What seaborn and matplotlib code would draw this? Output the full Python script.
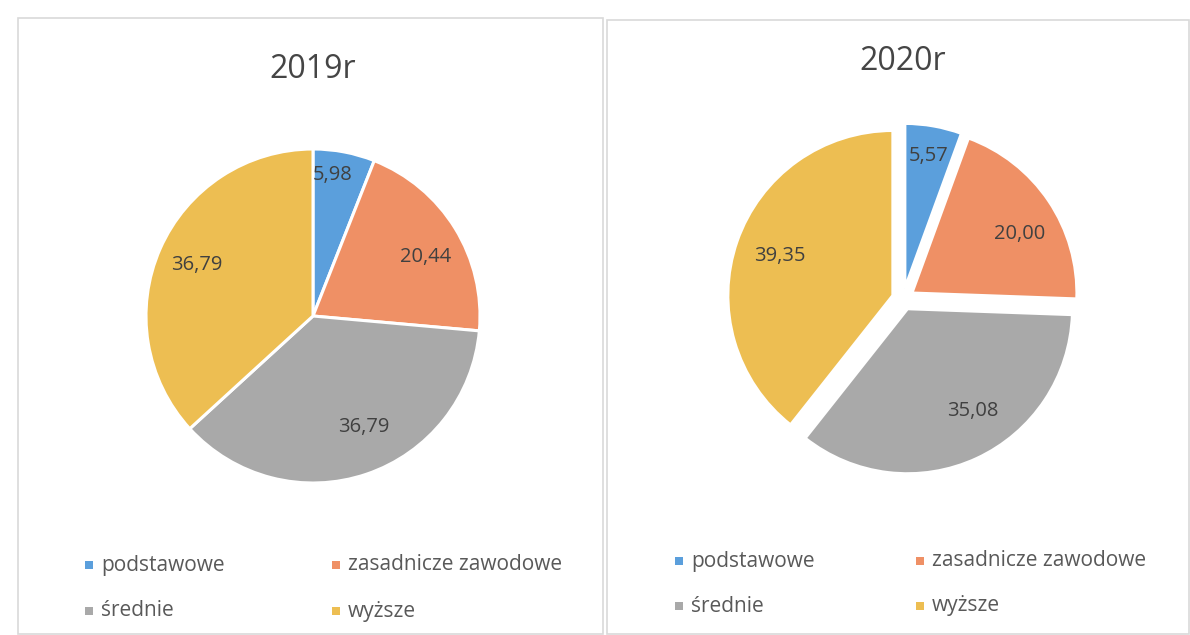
import matplotlib
matplotlib.use("Agg")
import matplotlib.pyplot as plt
from matplotlib.patches import Rectangle
import numpy as np
import seaborn as sns

categories = ["podstawowe", "zasadnicze zawodowe", "średnie", "wyższe"]
values_2019 = [5.98, 20.44, 36.79, 36.79]
values_2020 = [5.57, 20.00, 35.08, 39.35]
titles = ["2019r", "2020r"]
colors = ["#5B9FDC", "#EF9065", "#A9A9A9", "#EDBE52"]

sns.set_theme(style="white")
plt.rcParams["font.family"] = ["Open Sans", "DejaVu Sans"]

W, H = 1190, 635
fig = plt.figure(figsize=(W / 100, H / 100), dpi=100)
fig.patch.set_facecolor("white")

LIM = 1.2

def px_axes(cx, cy, r):
    s = 2 * LIM * r
    ax = fig.add_axes([(cx - s / 2) / W, (H - cy - s / 2) / H, s / W, s / H])
    return ax

# panel borders
for (x0, y0, x1, y1) in [(18, 18, 603, 634), (607, 20, 1189, 634)]:
    fig.patches.append(Rectangle((x0 / W, 1 - y1 / H), (x1 - x0) / W, (y1 - y0) / H,
                                 transform=fig.transFigure, fill=False,
                                 edgecolor="#D9D9D9", linewidth=1.2))

panels = [
    dict(vals=values_2019, cx=313, cy=316, r=167, explode=[0, 0, 0, 0],
         lab=[(0.85, 3), (0.76, -4), (0.73, 6), (0.76, 0)],
         title_xy=(313, 70), leg_x=[89, 336], leg_y=[565, 611]),
    dict(vals=values_2020, cx=903, cy=299, r=165, explode=[0.065] * 4,
         lab=[(0.88, 0), (0.81, -5), (0.80, 7), (0.79, 0)],
         title_xy=(903, 62), leg_x=[679, 920], leg_y=[561, 606]),
]

for i, p in enumerate(panels):
    ax = px_axes(p["cx"], p["cy"], p["r"])
    wedges, _ = ax.pie(p["vals"], colors=colors, startangle=90, counterclock=False,
                       explode=p["explode"],
                       wedgeprops=dict(edgecolor="white", linewidth=2.2))
    ax.set_xlim(-LIM, LIM)
    ax.set_ylim(-LIM, LIM)
    ax.set_aspect("equal")
    ax.axis("off")
    for w, v, (lr, da) in zip(wedges, p["vals"], p["lab"]):
        ang = np.deg2rad((w.theta1 + w.theta2) / 2 + da)
        ax.text(lr * np.cos(ang), lr * np.sin(ang),
                f"{v:.2f}".replace(".", ","), ha="center", va="center",
                fontsize=14.5, color="#404040")
    fig.text(p["title_xy"][0] / W, 1 - p["title_xy"][1] / H, titles[i],
             ha="center", va="center", fontsize=23, color="#454545")
    # legend entries
    k = 0
    for row in range(2):
        for col in range(2):
            lx = p["leg_x"][col]
            ly = p["leg_y"][row]
            fig.patches.append(Rectangle(((lx - 4) / W, 1 - (ly + 4) / H), 8 / W, 8 / H,
                                         transform=fig.transFigure, facecolor=colors[k],
                                         edgecolor="none"))
            fig.text((lx + 12) / W, 1 - ly / H, categories[k], ha="left", va="center",
                     fontsize=15, color="#595959")
            k += 1

fig.savefig("out.png", dpi=100, facecolor="white")
